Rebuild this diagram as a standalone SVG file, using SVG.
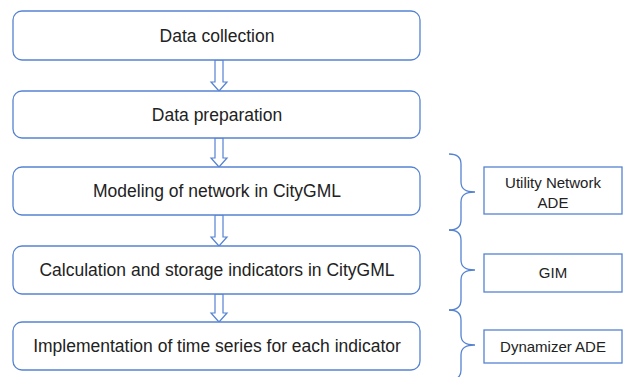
<svg xmlns="http://www.w3.org/2000/svg" width="623" height="377" viewBox="0 0 623 377">
<style>
.box{fill:#fff;stroke:#5583d2;stroke-width:1.3}
.side{fill:#fff;stroke:#5583d2;stroke-width:1.3}
.arr{fill:#fff;stroke:#5583d2;stroke-width:1.2;stroke-linejoin:miter}
.brace{fill:none;stroke:#5583d2;stroke-width:1.3}
.t{font-family:"Liberation Sans",Arial,sans-serif;font-size:17.5px;fill:#222;text-anchor:middle}
.s{font-family:"Liberation Sans",Arial,sans-serif;font-size:15px;fill:#222;text-anchor:middle}
</style>
<rect width="623" height="377" fill="#fff"/>
<g id="connectors">
<path class="arr" d="M215,60 L223,60 L223,82 L227,82 L219,91 L211,82 L215,82 Z"/>
<path class="arr" d="M215,138 L223,138 L223,158 L227,158 L219,167 L211,158 L215,158 Z"/>
<path class="arr" d="M215,215 L223,215 L223,237 L227,237 L219,246 L211,237 L215,237 Z"/>
<path class="arr" d="M215,294 L223,294 L223,313 L227,313 L219,322 L211,313 L215,313 Z"/>
<path class="brace" d="M449,154 C457,154 461,157 461,164 L461,182 C461,189 465,192 475,192 C465,192 461,195 461,202 L461,220 C461,227 457,230 449,230"/>
<path class="brace" d="M449,230 C457,230 461,233 461,240 L461,260 C461,267 465,270 475,270 C465,270 461,273 461,280 L461,300 C461,307 457,310 449,310"/>
<path class="brace" d="M449,310 C457,310 461,313 461,320 L461,335 C461,342 465,345 475,345 C465,345 461,348 461,355 L461,370 C461,377 457,380 449,380"/>
</g>
<g id="n1"><rect class="box" x="13" y="11" width="407" height="49" rx="9"/><text class="t" x="217" y="41.5">Data collection</text></g>
<g id="n2"><rect class="box" x="13" y="91" width="407" height="47" rx="9"/><text class="t" x="217" y="120.5">Data preparation</text></g>
<g id="n3"><rect class="box" x="13" y="167" width="407" height="48" rx="9"/><text class="t" x="217" y="197">Modeling of network in CityGML</text></g>
<g id="n4"><rect class="box" x="13" y="246" width="407" height="48" rx="9"/><text class="t" x="217" y="276">Calculation and storage indicators in CityGML</text></g>
<g id="n5"><rect class="box" x="13" y="322" width="407" height="48" rx="9"/><text class="t" x="217" y="352">Implementation of time series for each indicator</text></g>
<g id="r1"><rect class="side" x="484" y="167" width="138" height="47"/><text class="s" x="553" y="188">Utility Network</text><text class="s" x="553" y="208">ADE</text></g>
<g id="r2"><rect class="side" x="484" y="254" width="138" height="38"/><text class="s" x="553" y="278">GIM</text></g>
<g id="r3"><rect class="side" x="484" y="330" width="138" height="33"/><text class="s" x="553" y="352">Dynamizer ADE</text></g>
</svg>
